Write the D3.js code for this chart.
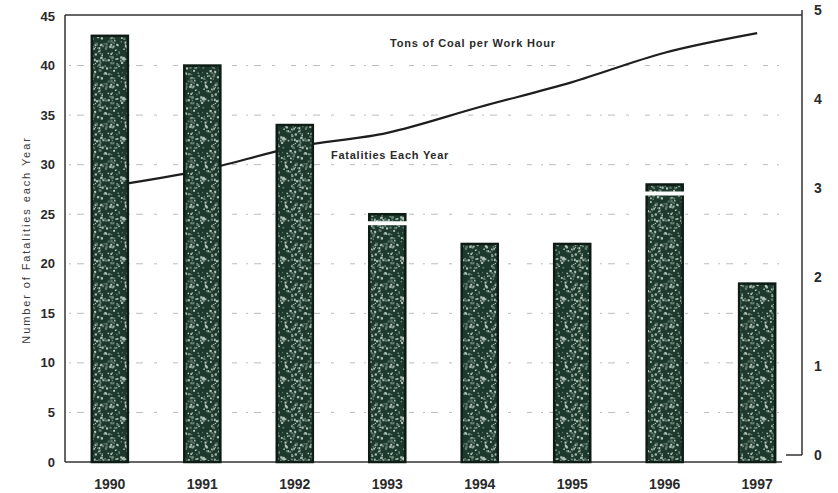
<!DOCTYPE html>
<html>
<head>
<meta charset="utf-8">
<script src="https://cdn.jsdelivr.net/npm/d3@7"></script>
<style>
  body { margin: 0; background: #fff; }
  svg text { font-family: "Liberation Sans", Arial, sans-serif; fill: #2a2a2a; }
</style>
</head>
<body>
<div id="chart"></div>
<script>
const width = 838
const height = 493

// datos
const years = ["1990", "1991", "1992", "1993", "1994", "1995", "1996", "1997"]
const fatalities = [43, 40, 34, 25, 22, 22, 28, 18]
const tonsPerHour = [3.02, 3.2, 3.46, 3.62, 3.91, 4.19, 4.52, 4.74]
const leftTicks = [0, 5, 10, 15, 20, 25, 30, 35, 40, 45]
const rightTicks = [0, 1, 2, 3, 4, 5]
// barras con el corte blanco del escaneo
const gapYears = ["1993", "1996"]

const plot = { left: 65, right: 802, top: 16, bottom: 462 }

const svg = d3.select('#chart').append('svg').attr('width', width).attr('height', height)

// textura de las barras
const defs = svg.append('defs')
const pat = defs.append('pattern').attr('id', 'speckle').attr('patternUnits', 'userSpaceOnUse')
    .attr('width', 40).attr('height', 40)
pat.append('rect').attr('width', 40).attr('height', 40).attr('fill', '#1d392e')
let seed = 11
const rnd = () => { seed = (seed * 16807) % 2147483647; return (seed - 1) / 2147483646 }
for (let i = 0; i < 150; i++) {
    const s = 1 + rnd() * 1.3
    pat.append('rect')
        .attr('x', rnd() * 39).attr('y', rnd() * 39)
        .attr('width', s).attr('height', s)
        .attr('fill', rnd() > 0.45 ? '#b3c4ba' : '#65806f')
}

const x = d3.scaleBand().domain(years).range([plot.left, plot.right])
    .paddingInner(0.61).paddingOuter(0.29)
const y = d3.scaleLinear().domain([0, 45]).range([plot.bottom, plot.top])
const y2 = d3.scaleLinear().domain([0, 5]).range([455, 10])

// lineas de guia punteadas
svg.append('g').selectAll('line').data(leftTicks.filter(d => d > 0 && d < 45)).join('line')
    .attr('x1', plot.left + 4).attr('x2', plot.right - 20)
    .attr('y1', d => y(d)).attr('y2', d => y(d))
    .attr('stroke', '#888').attr('stroke-width', 1)
    .attr('stroke-dasharray', '2,6,7,11,3,16,5,9')
    .attr('opacity', 0.55)

// marco
svg.append('line').attr('x1', plot.left).attr('x2', plot.right).attr('y1', plot.top - 1).attr('y2', plot.top - 1)
    .attr('stroke', '#333').attr('stroke-width', 1.5)
svg.append('line').attr('x1', plot.right).attr('x2', plot.right).attr('y1', y2(5)).attr('y2', y2(0))
    .attr('stroke', '#333').attr('stroke-width', 1.5)
svg.append('line').attr('x1', plot.right - 16).attr('x2', plot.right).attr('y1', y2(0)).attr('y2', y2(0))
    .attr('stroke', '#333').attr('stroke-width', 1.5)
svg.append('line').attr('x1', plot.left).attr('x2', plot.left).attr('y1', plot.top - 1).attr('y2', plot.bottom)
    .attr('stroke', '#333').attr('stroke-width', 1.5)
svg.append('line').attr('x1', plot.left).attr('x2', plot.right - 20).attr('y1', plot.bottom).attr('y2', plot.bottom)
    .attr('stroke', '#333').attr('stroke-width', 1.5)

// linea de toneladas por hora
const line = d3.line()
    .x((d, i) => x(years[i]) + x.bandwidth() / 2)
    .y(d => y2(d))
    .curve(d3.curveMonotoneX)
svg.append('path').datum(tonsPerHour).attr('d', line)
    .attr('fill', 'none').attr('stroke', '#1e1e1e').attr('stroke-width', 2.2)

// barras
svg.append('g').selectAll('rect').data(fatalities).join('rect')
    .attr('x', (d, i) => x(years[i]))
    .attr('y', d => y(d))
    .attr('width', x.bandwidth())
    .attr('height', d => y(0) - y(d))
    .attr('fill', 'url(#speckle)')
    .attr('stroke', '#0e1c16').attr('stroke-width', 2.5)

svg.append('g').selectAll('rect').data(gapYears).join('rect')
    .attr('x', d => x(d) - 2)
    .attr('y', d => y(fatalities[years.indexOf(d)]) + 7)
    .attr('width', x.bandwidth() + 4)
    .attr('height', 4)
    .attr('fill', '#fff')

// ejes
const leftAxis = svg.append('g')
leftAxis.selectAll('text').data(leftTicks).join('text')
    .attr('x', 55).attr('y', d => y(d) + 4.5)
    .attr('text-anchor', 'end').attr('font-size', 13).attr('font-weight', 'bold')
    .text(d => d)

const rightAxis = svg.append('g')
rightAxis.selectAll('text').data(rightTicks).join('text')
    .attr('x', 814).attr('y', d => y2(d) + 5)
    .attr('font-size', 14).attr('font-weight', 'bold')
    .text(d => d)

svg.append('g').selectAll('text').data(years).join('text')
    .attr('x', d => x(d) + x.bandwidth() / 2).attr('y', 489)
    .attr('text-anchor', 'middle').attr('font-size', 14).attr('font-weight', 'bold')
    .text(d => d)

// titulos
svg.append('text').attr('transform', 'translate(30,240) rotate(-90)')
    .attr('text-anchor', 'middle').attr('font-size', 11).attr('letter-spacing', 1.9)
    .style('fill', '#3a3a3a')
    .text('Number of Fatalities each Year')

svg.append('text').attr('x', 390).attr('y', 47)
    .attr('font-size', 11).attr('font-weight', 'bold').attr('letter-spacing', 0.8)
    .text('Tons of Coal per Work Hour')

svg.append('text').attr('x', 331).attr('y', 159)
    .attr('font-size', 11).attr('font-weight', 'bold').attr('letter-spacing', 0.75)
    .text('Fatalities Each Year')
</script>
</body>
</html>
